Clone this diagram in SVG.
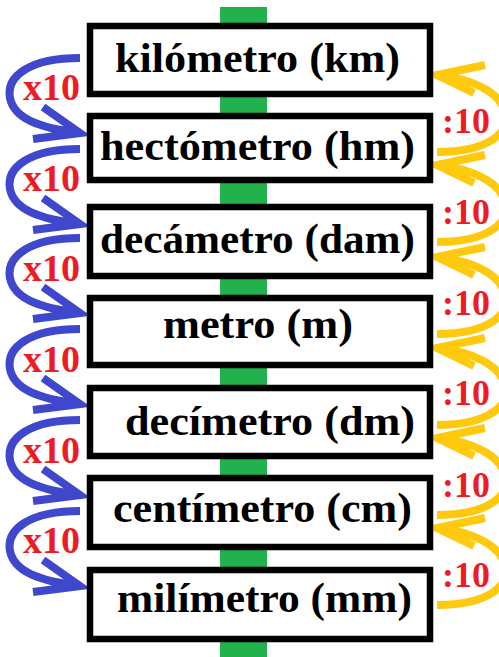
<svg xmlns="http://www.w3.org/2000/svg" xmlns:xlink="http://www.w3.org/1999/xlink" width="499" height="657" viewBox="0 0 499 657">
<style>
.box{fill:#fff;stroke:#000;stroke-width:6.5}
.lbl{font-family:"Liberation Serif",serif;font-weight:bold;font-size:42px;fill:#000}
.blue{fill:none;stroke:#3f48cc;stroke-width:8;stroke-linejoin:miter}
.gold{fill:none;stroke:#ffc90e;stroke-width:8;stroke-linejoin:miter}
.mul{font-family:"Liberation Serif",serif;font-weight:bold;font-size:37px;fill:#ed1c24}
.div{font-family:"Liberation Serif",serif;font-weight:bold;font-size:36px;fill:#ed1c24}
</style>
<defs>
<g id="barrow"><path class="blue" d="M80,0 C30,0 6,18 10,40 C14,60 38,70 80,75 M43,49 L80,75 L33,81"/></g>
<g id="garrow"><path class="gold" d="M437,77 C490,77 512,56 505,36 C498,16 472,4 437,0 M485,-10 L437,0 L474,18"/></g>
</defs>
<rect x="220" y="7" width="47" height="650" fill="#22b14c"/>
<g id="connectors">
<use xlink:href="#barrow" transform="translate(0,58)"/>
<use xlink:href="#barrow" transform="translate(0,149)"/>
<use xlink:href="#barrow" transform="translate(0,238)"/>
<use xlink:href="#barrow" transform="translate(0,329)"/>
<use xlink:href="#barrow" transform="translate(0,420)"/>
<use xlink:href="#barrow" transform="translate(0,511)"/>
<use xlink:href="#garrow" transform="translate(0,75)"/>
<use xlink:href="#garrow" transform="translate(0,165)"/>
<use xlink:href="#garrow" transform="translate(0,257)"/>
<use xlink:href="#garrow" transform="translate(0,348)"/>
<use xlink:href="#garrow" transform="translate(0,438)"/>
<use xlink:href="#garrow" transform="translate(0,528)"/>
<text class="mul" x="23" y="100" textLength="57" lengthAdjust="spacingAndGlyphs">x10</text>
<text class="mul" x="23" y="191" textLength="57" lengthAdjust="spacingAndGlyphs">x10</text>
<text class="mul" x="23" y="281" textLength="57" lengthAdjust="spacingAndGlyphs">x10</text>
<text class="mul" x="23" y="372" textLength="57" lengthAdjust="spacingAndGlyphs">x10</text>
<text class="mul" x="23" y="463" textLength="57" lengthAdjust="spacingAndGlyphs">x10</text>
<text class="mul" x="23" y="553" textLength="57" lengthAdjust="spacingAndGlyphs">x10</text>
<text class="div" x="442" y="133" textLength="48" lengthAdjust="spacingAndGlyphs">:10</text>
<text class="div" x="442" y="224" textLength="48" lengthAdjust="spacingAndGlyphs">:10</text>
<text class="div" x="442" y="315" textLength="48" lengthAdjust="spacingAndGlyphs">:10</text>
<text class="div" x="442" y="405" textLength="48" lengthAdjust="spacingAndGlyphs">:10</text>
<text class="div" x="442" y="497" textLength="48" lengthAdjust="spacingAndGlyphs">:10</text>
<text class="div" x="442" y="587" textLength="48" lengthAdjust="spacingAndGlyphs">:10</text>
</g>
<g id="km"><rect class="box" x="90" y="26" width="340" height="68"/><text class="lbl" x="115" y="72" textLength="285" lengthAdjust="spacingAndGlyphs">kilómetro (km)</text></g>
<g id="hm"><rect class="box" x="90" y="116" width="340" height="64"/><text class="lbl" x="100" y="160" textLength="315" lengthAdjust="spacingAndGlyphs">hectómetro (hm)</text></g>
<g id="dam"><rect class="box" x="90" y="207" width="340" height="69"/><text class="lbl" x="100" y="253" textLength="315" lengthAdjust="spacingAndGlyphs">decámetro (dam)</text></g>
<g id="m"><rect class="box" x="90" y="298" width="340" height="67"/><text class="lbl" x="163" y="338" textLength="190" lengthAdjust="spacingAndGlyphs">metro (m)</text></g>
<g id="dm"><rect class="box" x="90" y="388" width="340" height="68"/><text class="lbl" x="125" y="435" textLength="290" lengthAdjust="spacingAndGlyphs">decímetro (dm)</text></g>
<g id="cm"><rect class="box" x="90" y="478" width="340" height="69"/><text class="lbl" x="113" y="522" textLength="299" lengthAdjust="spacingAndGlyphs">centímetro (cm)</text></g>
<g id="mm"><rect class="box" x="90" y="570" width="340" height="69"/><text class="lbl" x="117" y="612" textLength="295" lengthAdjust="spacingAndGlyphs">milímetro (mm)</text></g>
</svg>
